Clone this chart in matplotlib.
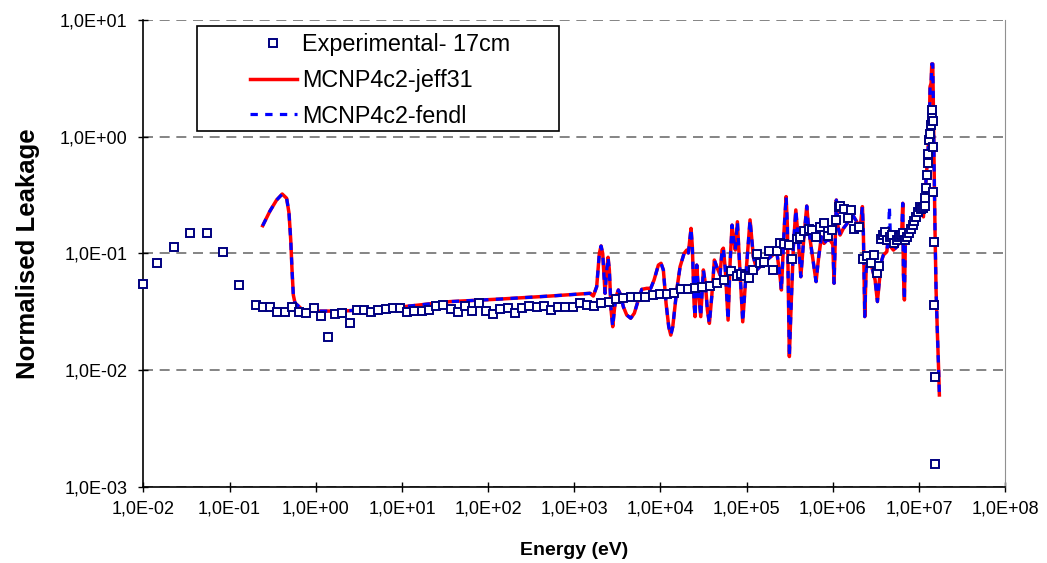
import matplotlib
matplotlib.use("Agg")
import matplotlib.pyplot as plt
import numpy as np
from matplotlib.ticker import FixedLocator, FuncFormatter, NullLocator
from matplotlib.patches import Rectangle

plt.rcParams["font.family"] = ["Liberation Sans", "DejaVu Sans"]

# Experimental leakage (17 cm)
exp_energy = [
    0.01, 0.0145, 0.0224, 0.0347, 0.054, 0.0837, 0.129, 0.202, 0.245, 0.297,
    0.357, 0.435, 0.53, 0.644, 0.776, 0.946, 1.15, 1.39, 1.68, 2.03,
    2.47, 3.0, 3.63, 4.41, 5.31, 6.47, 7.87, 9.5, 11.4, 13.9,
    16.9, 20.6, 24.8, 30.2, 36.8, 44.4, 54, 65, 77.6, 95,
    115, 138, 169, 205, 247, 301, 366, 442, 537, 653,
    787, 959, 1167, 1406, 1710, 2061, 2506, 3055, 3710, 4518,
    5495, 6683, 8128, 9886, 11830, 14380, 17200, 20900, 25400, 30600,
    37300, 45000, 54700, 65500, 76900, 86900, 96800, 107700, 118000, 133400,
    143000, 160700, 180700, 201000, 224000, 244500, 272000, 308000, 340000, 382000,
    417000, 464000, 526000, 570000, 640000, 711000, 793000, 875000, 982000, 1.08e6,
    1.17e6, 1.2e6, 1.34e6, 1.49e6, 1.64e6, 1.78e6, 2.02e6, 2.24e6, 2.5e6, 2.8e6,
    3.0e6, 3.24e6, 3.42e6, 3.63e6, 3.86e6, 4.05e6, 4.3e6, 4.6e6, 4.88e6, 5.14e6,
    5.53e6, 5.89e6, 6.2e6, 6.6e6, 6.97e6, 7.35e6, 7.74e6, 8.04e6, 8.49e6, 8.86e6,
    9.33e6, 9.86e6, 1.03e7, 1.07e7, 1.12e7, 1.18e7, 1.19e7, 1.21e7, 1.23e7, 1.26e7,
    1.29e7, 1.32e7, 1.34e7, 1.37e7, 1.41e7, 1.42e7, 1.44e7, 1.46e7, 1.47e7, 1.49e7,
    1.5e7, 1.53e7, 1.55e7,
]
exp_leak = [
    0.0545, 0.0824, 0.114, 0.149, 0.149, 0.102, 0.0537, 0.0362, 0.0346, 0.0346,
    0.0313, 0.0313, 0.0346, 0.0316, 0.031, 0.034, 0.0293, 0.0192, 0.0305, 0.0307,
    0.0255, 0.033, 0.033, 0.0316, 0.033, 0.0337, 0.034, 0.034, 0.0316, 0.0322,
    0.0322, 0.033, 0.0357, 0.036, 0.0337, 0.0313, 0.0354, 0.0322, 0.0377, 0.032,
    0.0303, 0.0332, 0.0343, 0.031, 0.0343, 0.0354, 0.035, 0.0357, 0.033, 0.0346,
    0.035, 0.035, 0.0374, 0.036, 0.0357, 0.0379, 0.0382, 0.0405, 0.0413, 0.042,
    0.042, 0.0424, 0.0441, 0.0446, 0.0446, 0.0456, 0.0497, 0.05, 0.0506, 0.052,
    0.0525, 0.0556, 0.0597, 0.0708, 0.0646, 0.0664, 0.0646, 0.0613, 0.0718, 0.0984,
    0.0834, 0.084, 0.105, 0.0718, 0.105, 0.122, 0.12, 0.118, 0.0902, 0.133,
    0.139, 0.155, 0.163, 0.158, 0.139, 0.169, 0.184, 0.141, 0.16, 0.194,
    0.251, 0.254, 0.24, 0.203, 0.237, 0.161, 0.168, 0.089, 0.0952, 0.083,
    0.098, 0.0676, 0.0786, 0.133, 0.143, 0.154, 0.131, 0.139, 0.143, 0.122,
    0.131, 0.138, 0.143, 0.15, 0.131, 0.139, 0.149, 0.161, 0.175, 0.191,
    0.207, 0.228, 0.251, 0.24, 0.245, 0.257, 0.297, 0.366, 0.47, 0.59,
    0.71, 0.94, 1.05, 1.26, 1.49, 1.70, 1.36, 0.82, 0.336, 0.126,
    0.0362, 0.0088, 0.00158,
]

# MCNP4c2 calculation (jeff31 and fendl share the energy grid)
calc_energy = [
    0.242, 0.294, 0.351, 0.408, 0.459, 0.489, 0.512, 0.53, 0.549, 0.574,
    0.7, 1.02, 2.08, 10.4, 36, 137, 523, 1167, 1523, 1663,
    1820, 1954, 2046, 2138, 2275, 2382, 2466, 2553, 2673, 2794,
    2917, 3054, 3246, 3459, 3708, 4064, 4519, 4977, 5535, 6064,
    6930, 7713, 8433, 9462, 10160, 10810, 11620, 12480, 13180, 13900,
    15460, 16900, 18790, 20180, 21080, 22650, 23450, 24560, 25220, 26380,
    27550, 29370, 31480, 33200, 35050, 36980, 39380, 42230, 44980, 49170,
    51880, 53700, 56620, 60950, 64270, 67770, 70170, 73980, 78160, 82400,
    90150, 100400, 109600, 119700, 131100, 171300, 223900, 244500, 253400, 272300,
    287300, 297300, 308300, 313300, 325100, 348800, 372300, 395600, 425600, 456000,
    499000, 526000, 595700, 639700, 687000, 737900, 792500, 851000, 931000, 1.0e6,
    1.035e6, 1.1e6, 1.15e6, 1.216e6, 1.328e6, 1.517e6, 1.734e6, 1.897e6, 2.073e6, 2.207e6,
    2.265e6, 2.35e6, 2.437e6, 2.59e6, 2.833e6, 3.097e6, 3.296e6, 3.54e6, 3.705e6, 3.865e6,
    4.236e6, 4.42e6, 4.54e6, 4.71e6, 5.05e6, 5.53e6, 6.04e6, 6.32e6, 6.49e6, 6.6e6,
    6.78e6, 6.96e6, 7.35e6, 7.89e6, 8.63e6, 9.44e6, 1.03e7, 1.127e7, 1.148e7, 1.21e7,
    1.277e7, 1.322e7, 1.346e7, 1.383e7, 1.409e7, 1.446e7, 1.471e7, 1.5e7, 1.538e7, 1.58e7,
    1.637e7, 1.698e7, 1.726e7,
]
jeff31_leak = [
    0.173, 0.231, 0.287, 0.323, 0.297, 0.222, 0.131, 0.0723, 0.0441, 0.0377,
    0.033, 0.0321, 0.0321, 0.035, 0.0387, 0.0407, 0.0432, 0.045, 0.0456, 0.0432,
    0.052, 0.1, 0.116, 0.1, 0.0456, 0.0723, 0.0928, 0.0723, 0.0328, 0.0236,
    0.0328, 0.0427, 0.0487, 0.0441, 0.035, 0.0297, 0.0279, 0.0308, 0.04, 0.0493,
    0.0503, 0.0503, 0.0593, 0.0796, 0.0824, 0.0723, 0.0374, 0.0236, 0.02, 0.0236,
    0.0487, 0.0771, 0.1, 0.107, 0.101, 0.164, 0.114, 0.0374, 0.0288, 0.0796,
    0.0487, 0.0288, 0.0723, 0.0555, 0.0328, 0.0252, 0.0427, 0.0879, 0.0771, 0.0655,
    0.107, 0.111, 0.0723, 0.0269, 0.0824, 0.175, 0.139, 0.107, 0.187, 0.0879,
    0.026, 0.0824, 0.194, 0.094, 0.0723, 0.0879, 0.1035, 0.0632, 0.0487, 0.159,
    0.307, 0.17, 0.0288, 0.0131, 0.0288, 0.114, 0.236, 0.139, 0.0632, 0.122,
    0.255, 0.159, 0.0824, 0.0574, 0.094, 0.139, 0.122, 0.13, 0.13, 0.12,
    0.0556, 0.287, 0.17, 0.144, 0.164, 0.187, 0.209, 0.187, 0.164, 0.252,
    0.149, 0.0288, 0.0723, 0.094, 0.0771, 0.0593, 0.0387, 0.0676, 0.0879, 0.097,
    0.1035, 0.139, 0.14, 0.114, 0.107, 0.114, 0.13, 0.159, 0.269, 0.0676,
    0.04, 0.13, 0.139, 0.159, 0.182, 0.214, 0.236, 0.206, 0.252, 0.427,
    0.77, 1.30, 2.69, 2.87, 4.2, 4.2, 1.81, 0.553, 0.149, 0.0487,
    0.0207, 0.0094, 0.00614,
]
fendl_leak = list(jeff31_leak)
fendl_leak[132] = 0.252  # fendl spike near 4.5 MeV

x_ticks = [1e-2, 1e-1, 1e0, 1e1, 1e2, 1e3, 1e4, 1e5, 1e6, 1e7, 1e8]
y_ticks = [1e-3, 1e-2, 1e-1, 1e0, 1e1]

fig = plt.figure(figsize=(10.47, 5.63), dpi=100)
ax = fig.add_axes([0.137, 0.135, 0.823, 0.8295])

ln_jeff, = ax.plot(calc_energy, jeff31_leak, color="#FF0000", lw=2.5,
                   solid_joinstyle="round", label="MCNP4c2-jeff31", zorder=2)
ln_fendl, = ax.plot(calc_energy, fendl_leak, color="#0000FF", lw=2.3,
                    linestyle=(0, (2.3, 2.3)), label="MCNP4c2-fendl", zorder=3)
ln_exp, = ax.plot(exp_energy, exp_leak, linestyle="none", marker="s", ms=5.5,
                  mfc="white", mec="#000080", mew=1.4, clip_on=False,
                  label="Experimental- 17cm", zorder=4)

ax.set_xscale("log")
ax.set_yscale("log")
ax.set_xlim(1e-2, 1e8)
ax.set_ylim(1e-3, 1e1)
ax.xaxis.set_major_locator(FixedLocator(x_ticks))
ax.yaxis.set_major_locator(FixedLocator(y_ticks))
ax.xaxis.set_minor_locator(NullLocator())
ax.yaxis.set_minor_locator(NullLocator())
fmt = FuncFormatter(lambda v, pos: "1,0E%+03d" % int(round(np.log10(v))))
ax.xaxis.set_major_formatter(fmt)
ax.yaxis.set_major_formatter(fmt)
ax.tick_params(axis="both", direction="inout", length=7, width=1, labelsize=13)
ax.tick_params(axis="x", pad=6)
ax.tick_params(axis="y", pad=8)

ax.grid(True, axis="y", color="#707070", linestyle=(0, (6, 4)), lw=1.2)
ax.spines["top"].set_visible(False)
ax.spines["right"].set_color("#909090")
ax.spines["left"].set_linewidth(1.2)
ax.spines["bottom"].set_linewidth(1.2)

ax.set_xlabel("Energy (eV)", fontsize=14, fontweight="bold", labelpad=18)
ax.set_ylabel("Normalised Leakage", fontsize=18.5, fontweight="bold", labelpad=14)

# legend box
ax.add_patch(Rectangle((0.062, 0.762), 0.42, 0.225, transform=ax.transAxes,
                       fill=True, facecolor="white", edgecolor="black", lw=1.2, zorder=5))
leg = ax.legend(handles=[ln_exp, ln_jeff, ln_fendl], loc="center left",
                bbox_to_anchor=(0.110, 0.871), frameon=False, fontsize=16.8,
                borderpad=0, handlelength=2.0, handletextpad=0.25,
                labelspacing=0.55, numpoints=1)
leg.set_zorder(6)

fig.savefig("out.png", dpi=100)
